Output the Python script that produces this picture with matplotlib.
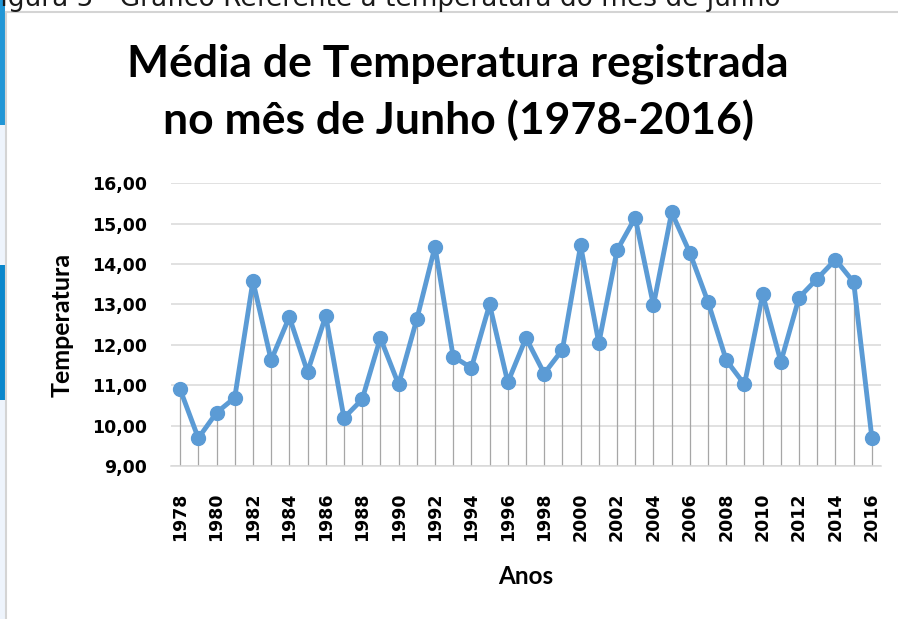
import matplotlib.pyplot as plt
from matplotlib.patches import Rectangle
from matplotlib.lines import Line2D
import numpy as np

# Dados: média de temperatura em junho (1978-2016)
anos = np.arange(1978, 2017)
temperatura = [
    10.90, 9.69, 10.32, 10.69, 13.58, 11.62, 12.69, 11.33, 12.72, 10.19,
    10.65, 12.17, 11.02, 12.63, 14.43, 11.71, 11.43, 13.00, 11.07, 12.17,
    11.29, 11.88, 14.46, 12.04, 14.34, 15.15, 12.98, 15.28, 14.28, 13.06,
    11.62, 11.02, 13.25, 11.58, 13.17, 13.64, 14.11, 13.55, 9.69
]
yticks = np.arange(9, 17)
titulo = 'Média de Temperatura registrada\nno mês de Junho (1978-2016)'
legenda_fig = 'Figura 5 - Gráfico Referente à temperatura do mês de junho'

cor = '#5B9BD5'
W, H = 898, 619
fig = plt.figure(figsize=(W / 100, H / 100), dpi=100)

# restos da captura de tela (borda e legenda cortada)
fig.text(-13 / W, 1 - 6 / H, legenda_fig, fontsize=19, family='DejaVu Sans',
         va='baseline', ha='left', color='#1a1a1a')
fig.add_artist(Rectangle((0, 0), 5 / W, 1, transform=fig.transFigure,
                         color='#eef4fc', lw=0))
fig.add_artist(Rectangle((0, 1 - 125 / H), 5 / W, 125 / H, transform=fig.transFigure,
                         color='#2196d6', lw=0))
fig.add_artist(Rectangle((0, 1 - 400 / H), 5 / W, 135 / H, transform=fig.transFigure,
                         color='#0a87cc', lw=0))
fig.add_artist(Line2D([6 / W, 6 / W], [0, 1 - 12 / H], transform=fig.transFigure,
                      color='#d4d4d4', lw=1.5))
fig.add_artist(Line2D([6 / W, 1], [1 - 12 / H, 1 - 12 / H], transform=fig.transFigure,
                      color='#d4d4d4', lw=1.5))

ax = fig.add_axes([171 / W, 1 - 466 / H, 710 / W, 282.7 / H])
ax.vlines(anos, 9, temperatura, color='#A6A6A6', lw=0.9, zorder=2)
ax.plot(anos, temperatura, color=cor, lw=3.5, marker='o', ms=10, zorder=3)

ax.set_ylim(9, 16)
ax.set_xlim(1977.5, 2016.5)
ax.set_yticks(yticks)
ax.set_yticklabels([f'{v:.2f}'.replace('.', ',') for v in yticks],
                   fontsize=12.5, fontweight='bold', family='DejaVu Sans')
ax.set_xticks(anos[::2])
ax.set_xticklabels([str(a) for a in anos[::2]], rotation=90,
                   fontsize=12.5, fontweight='bold', family='DejaVu Sans')
ax.tick_params(axis='both', length=0)
ax.tick_params(axis='y', pad=17)
ax.tick_params(axis='x', pad=19)
ax.grid(axis='y', color='#D9D9D9', lw=1.1, zorder=0)
for s in ['left', 'right', 'top']:
    ax.spines[s].set_visible(False)
ax.spines['bottom'].set_color('#D9D9D9')
ax.spines['bottom'].set_linewidth(1.1)
ax.set_axisbelow(True)

fig.text(458 / W, 1 - 44 / H, titulo, ha='center', va='top', fontsize=32,
         fontweight='bold', family='Lato', linespacing=1.42)
fig.text(62 / W, 1 - 325 / H, 'Temperatura', rotation=90, ha='center', va='center',
         fontsize=18, fontweight='bold', family='Lato')
fig.text(526 / W, 1 - 577 / H, 'Anos', ha='center', va='center',
         fontsize=17.5, fontweight='bold', family='Lato')

fig.savefig('out.png', dpi=100)
